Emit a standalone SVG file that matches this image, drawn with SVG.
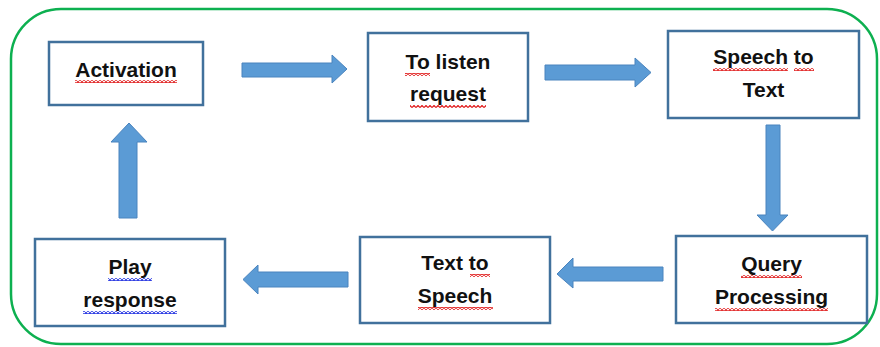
<svg xmlns="http://www.w3.org/2000/svg" width="880" height="347" viewBox="0 0 880 347">
<style>
.box{fill:#fff;stroke:#41719C;stroke-width:2.5}
.arr{fill:#5B9BD5;stroke:#4A84BE;stroke-width:1}
.t{font-family:"Liberation Sans",Arial,sans-serif;font-weight:bold;font-size:21px;fill:#111;text-anchor:middle}
.rw{fill:url(#redwave)}
.bw{fill:url(#bluewave)}
</style>
<defs>
<pattern id="redwave" patternUnits="userSpaceOnUse" width="4" height="3">
<polyline points="0,2.5 2,0.5 4,2.5" fill="none" stroke="#E01818" stroke-width="1.2"/>
</pattern>
<pattern id="bluewave" patternUnits="userSpaceOnUse" width="4" height="3">
<polyline points="0,2.5 2,0.5 4,2.5" fill="none" stroke="#1828E0" stroke-width="1.2"/>
</pattern>
</defs>
<rect x="0" y="0" width="880" height="347" fill="#fff"/>
<rect id="frame" x="11" y="9" width="866" height="335" rx="50" ry="50" fill="none" stroke="#0DB050" stroke-width="2.5"/>

<g id="connectors">
<polygon class="arr" points="242,63 332,63 332,55 347,69 332,83 332,77 242,77"/>
<polygon class="arr" points="545,65 635,65 635,58 651,72.5 635,87 635,80 545,80"/>
<polygon class="arr" points="766,125 780,125 780,215 788,215 772.5,231 757,215 766,215"/>
<polygon class="arr" points="663,267 573,267 573,258 557,274 573,288 573,281 663,281"/>
<polygon class="arr" points="348,272 258,272 258,265 243,279.5 258,294 258,287 348,287"/>
<polygon class="arr" points="119,218 119,142 111,142 129,123 147,142 137,142 137,218"/>
</g>

<g id="activation">
<rect class="box" x="49" y="42" width="154" height="63"/>
<text class="t" x="126" y="77">Activation</text>
<rect class="rw" x="75" y="80" width="102" height="3"/>
</g>

<g id="listen">
<rect class="box" x="368" y="33" width="160" height="88"/>
<text class="t" x="448" y="69">To listen</text>
<text class="t" x="448" y="101">request</text>
<rect class="rw" x="405" y="73" width="25" height="3"/>
<rect class="rw" x="410" y="105" width="76" height="3"/>
</g>

<g id="stt">
<rect class="box" x="668" y="31" width="191" height="87"/>
<text class="t" x="763.5" y="64">Speech to</text>
<text class="t" x="763.5" y="97">Text</text>
<rect class="rw" x="713" y="68" width="75" height="3"/>
<rect class="rw" x="794" y="68" width="20" height="3"/>
</g>

<g id="query">
<rect class="box" x="676" y="236" width="191" height="87"/>
<text class="t" x="771.5" y="271">Query</text>
<text class="t" x="771.5" y="304">Processing</text>
<rect class="rw" x="741" y="275" width="61" height="3"/>
<rect class="rw" x="715" y="308" width="113" height="3"/>
</g>

<g id="tts">
<rect class="box" x="360" y="237" width="190" height="86"/>
<text class="t" x="455" y="270">Text to</text>
<text class="t" x="455" y="303">Speech</text>
<rect class="rw" x="470" y="274" width="20" height="3"/>
<rect class="rw" x="418" y="307" width="75" height="3"/>
</g>

<g id="play">
<rect class="box" x="35" y="239" width="190" height="87"/>
<text class="t" x="130" y="274">Play</text>
<text class="t" x="130" y="307">response</text>
<rect class="bw" x="108" y="278" width="44" height="3"/>
<rect class="bw" x="83" y="311" width="94" height="3"/>
</g>
</svg>
